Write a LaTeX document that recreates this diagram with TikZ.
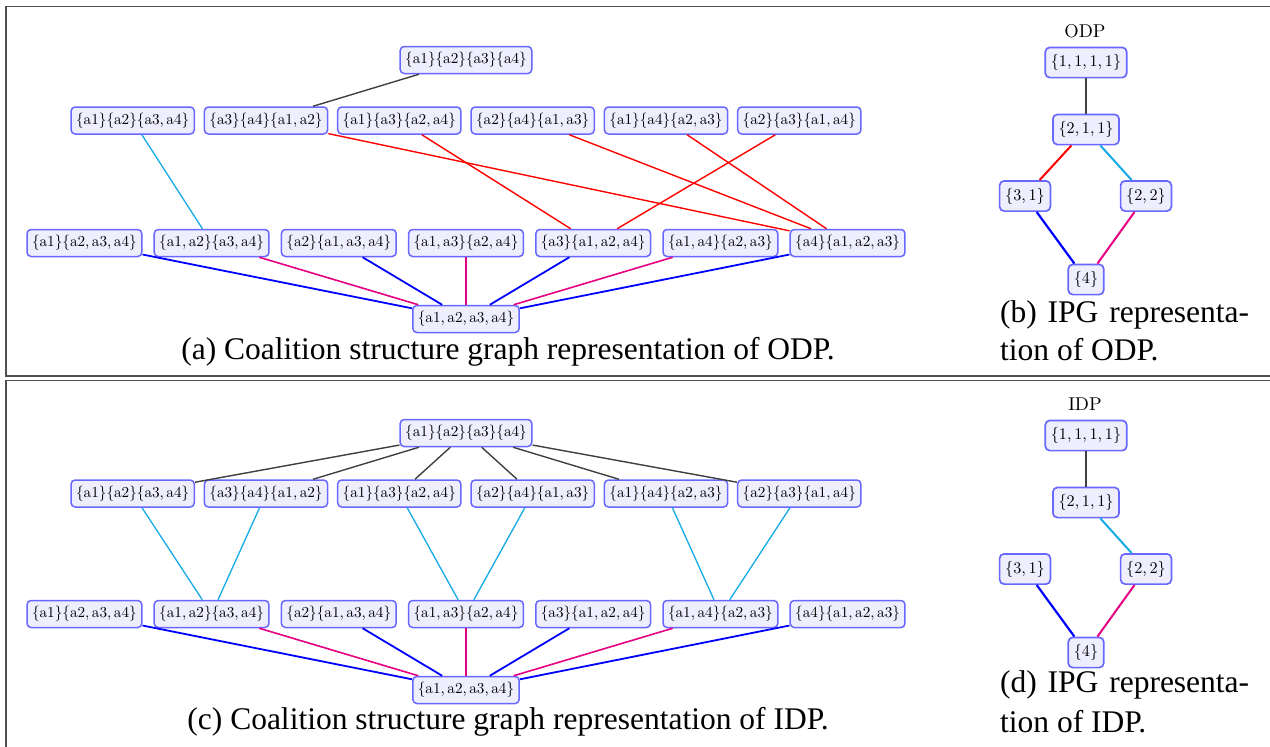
\documentclass[tikz,border=0pt]{standalone}
\usepackage{fontspec}
\newfontfamily\capfont{Liberation Serif}
\definecolor{edgegray}{RGB}{64,64,64}
\definecolor{ecyan}{RGB}{20,170,230}
\definecolor{ered}{RGB}{255,0,0}
\definecolor{eblue}{RGB}{0,0,255}
\definecolor{emag}{RGB}{230,0,130}
\definecolor{nodeborder}{RGB}{104,104,255}
\definecolor{nodefill}{RGB}{238,238,255}
\definecolor{framecol}{RGB}{80,80,80}
\newcommand{\cm}{,\kern1.67pt}
\newcommand{\csl}[1]{\scalebox{1.52}{\fontsize{10}{12}\selectfont #1}}
\newcommand{\ipl}[1]{\scalebox{1.62}{\fontsize{10}{12}\selectfont #1}}
\begin{document}
\begin{tikzpicture}[x=1pt,y=-1pt,
  cs/.style={draw=nodeborder, fill=nodefill, rounded corners=4pt, line width=1.5pt,
    inner xsep=5pt, inner ysep=5.9pt},
  ip/.style={draw=nodeborder, fill=nodefill, rounded corners=4.5pt, line width=1.7pt,
    inner xsep=5.6pt, inner ysep=7pt},
  lbl/.style={inner sep=0pt},
  captext/.style={inner sep=0pt, font=\capfont\fontsize{31.5}{35}\selectfont},
  eg/.style={draw=edgegray, line width=1.4pt},
  ec/.style={draw=ecyan, line width=1.3pt},
  er/.style={draw=ered, line width=1.4pt},
  eb/.style={draw=eblue, line width=1.8pt},
  em/.style={draw=emag, line width=1.6pt},
  ecr/.style={draw=ecyan, line width=2pt},
  err/.style={draw=ered, line width=2pt},
  ebr/.style={draw=eblue, line width=2.2pt},
  emr/.style={draw=emag, line width=2pt},
  egr/.style={draw=edgegray, line width=2pt},
  frame/.style={draw=framecol, line width=1.5pt}
]
\useasboundingbox (0,0) rectangle (1270,747);

% frames
\draw[frame] (1270,6.5) -- (6,6.5) -- (6,376) -- (1270,376);
\draw[frame] (1270,380.5) -- (6,380.5) -- (6,747);

% ================= panel (a) =================
\node[cs] (a_t) at (466,60) {\csl{\{a1\}\{a2\}\{a3\}\{a4\}}};
\node[cs] (a_r1) at (132.7,120.5) {\csl{\{a1\}\{a2\}\{a3\cm a4\}}};
\node[cs] (a_r2) at (266,120.5) {\csl{\{a3\}\{a4\}\{a1\cm a2\}}};
\node[cs] (a_r3) at (399.3,120.5) {\csl{\{a1\}\{a3\}\{a2\cm a4\}}};
\node[cs] (a_r4) at (532.7,120.5) {\csl{\{a2\}\{a4\}\{a1\cm a3\}}};
\node[cs] (a_r5) at (666,120.5) {\csl{\{a1\}\{a4\}\{a2\cm a3\}}};
\node[cs] (a_r6) at (799.3,120.5) {\csl{\{a2\}\{a3\}\{a1\cm a4\}}};
\node[cs] (a_s1) at (84.4,243) {\csl{\{a1\}\{a2\cm a3\cm a4\}}};
\node[cs] (a_s2) at (211.6,243) {\csl{\{a1\cm a2\}\{a3\cm a4\}}};
\node[cs] (a_s3) at (338.8,243) {\csl{\{a2\}\{a1\cm a3\cm a4\}}};
\node[cs] (a_s4) at (466,243) {\csl{\{a1\cm a3\}\{a2\cm a4\}}};
\node[cs] (a_s5) at (593.2,243) {\csl{\{a3\}\{a1\cm a2\cm a4\}}};
\node[cs] (a_s6) at (720.4,243) {\csl{\{a1\cm a4\}\{a2\cm a3\}}};
\node[cs] (a_s7) at (847.6,243) {\csl{\{a4\}\{a1\cm a2\cm a3\}}};
\node[cs] (a_b) at (466,319) {\csl{\{a1\cm a2\cm a3\cm a4\}}};

\draw[eg] (a_t) -- (a_r2);
\draw[ec] (a_r1) -- (a_s2);
\draw[er] (a_r2) -- (a_s7);
\draw[er] (a_r3) -- (a_s5);
\draw[er] (a_r4) -- (a_s7);
\draw[er] (a_r5) -- (a_s7);
\draw[er] (a_r6) -- (a_s5);
\draw[eb] (a_s1) -- (a_b);
\draw[em] (a_s2) -- (a_b);
\draw[eb] (a_s3) -- (a_b);
\draw[em] (a_s4) -- (a_b);
\draw[eb] (a_s5) -- (a_b);
\draw[em] (a_s6) -- (a_b);
\draw[eb] (a_s7) -- (a_b);

\node[captext] (a_cap) at (508,352) {(a) Coalition structure graph representation of ODP.};

% ================= panel (b) =================
\node[lbl] (b_lbl) at (1085,31) {\scalebox{1.85}{\fontsize{10}{12}\selectfont ODP}};
\node[ip] (b_n1) at (1086,62.5) {\ipl{\{1\cm 1\cm 1\cm 1\}}};
\node[ip] (b_n2) at (1086,129.5) {\ipl{\{2\cm 1\cm 1\}}};
\node[ip] (b_n3) at (1025,196) {\ipl{\{3\cm 1\}}};
\node[ip] (b_n4) at (1146,196) {\ipl{\{2\cm 2\}}};
\node[ip] (b_n5) at (1086,279.5) {\ipl{\{4\}}};
\draw[egr] (b_n1) -- (b_n2);
\draw[err] (b_n2) -- (b_n3);
\draw[ecr] (b_n2) -- (b_n4);
\draw[ebr] (b_n3) -- (b_n5);
\draw[emr] (b_n4) -- (b_n5);
\node[captext, anchor=west] (b_cap1) at (1000,315) {\makebox[249pt][s]{(b) IPG representa-}};
\node[captext, anchor=west] (b_cap2) at (1000,350) {tion of ODP.};

% ================= panel (c) =================
\node[cs] (c_t) at (466,433) {\csl{\{a1\}\{a2\}\{a3\}\{a4\}}};
\node[cs] (c_r1) at (132.7,493.5) {\csl{\{a1\}\{a2\}\{a3\cm a4\}}};
\node[cs] (c_r2) at (266,493.5) {\csl{\{a3\}\{a4\}\{a1\cm a2\}}};
\node[cs] (c_r3) at (399.3,493.5) {\csl{\{a1\}\{a3\}\{a2\cm a4\}}};
\node[cs] (c_r4) at (532.7,493.5) {\csl{\{a2\}\{a4\}\{a1\cm a3\}}};
\node[cs] (c_r5) at (666,493.5) {\csl{\{a1\}\{a4\}\{a2\cm a3\}}};
\node[cs] (c_r6) at (799.3,493.5) {\csl{\{a2\}\{a3\}\{a1\cm a4\}}};
\node[cs] (c_s1) at (84.4,614) {\csl{\{a1\}\{a2\cm a3\cm a4\}}};
\node[cs] (c_s2) at (211.6,614) {\csl{\{a1\cm a2\}\{a3\cm a4\}}};
\node[cs] (c_s3) at (338.8,614) {\csl{\{a2\}\{a1\cm a3\cm a4\}}};
\node[cs] (c_s4) at (466,614) {\csl{\{a1\cm a3\}\{a2\cm a4\}}};
\node[cs] (c_s5) at (593.2,614) {\csl{\{a3\}\{a1\cm a2\cm a4\}}};
\node[cs] (c_s6) at (720.4,614) {\csl{\{a1\cm a4\}\{a2\cm a3\}}};
\node[cs] (c_s7) at (847.6,614) {\csl{\{a4\}\{a1\cm a2\cm a3\}}};
\node[cs] (c_b) at (466,690) {\csl{\{a1\cm a2\cm a3\cm a4\}}};

\draw[eg] (c_t) -- (c_r1);
\draw[eg] (c_t) -- (c_r2);
\draw[eg] (c_t) -- (c_r3);
\draw[eg] (c_t) -- (c_r4);
\draw[eg] (c_t) -- (c_r5);
\draw[eg] (c_t) -- (c_r6);
\draw[ec] (c_r1) -- (c_s2);
\draw[ec] (c_r2) -- (c_s2);
\draw[ec] (c_r3) -- (c_s4);
\draw[ec] (c_r4) -- (c_s4);
\draw[ec] (c_r5) -- (c_s6);
\draw[ec] (c_r6) -- (c_s6);
\draw[eb] (c_s1) -- (c_b);
\draw[em] (c_s2) -- (c_b);
\draw[eb] (c_s3) -- (c_b);
\draw[em] (c_s4) -- (c_b);
\draw[eb] (c_s5) -- (c_b);
\draw[em] (c_s6) -- (c_b);
\draw[eb] (c_s7) -- (c_b);

\node[captext] (c_cap) at (508,722) {(c) Coalition structure graph representation of IDP.};

% ================= panel (d) =================
\node[lbl] (d_lbl) at (1085,404) {\scalebox{1.85}{\fontsize{10}{12}\selectfont IDP}};
\node[ip] (d_n1) at (1086,435.5) {\ipl{\{1\cm 1\cm 1\cm 1\}}};
\node[ip] (d_n2) at (1086,502.5) {\ipl{\{2\cm 1\cm 1\}}};
\node[ip] (d_n3) at (1025,569) {\ipl{\{3\cm 1\}}};
\node[ip] (d_n4) at (1146,569) {\ipl{\{2\cm 2\}}};
\node[ip] (d_n5) at (1086,652.5) {\ipl{\{4\}}};
\draw[egr] (d_n1) -- (d_n2);
\draw[ecr] (d_n2) -- (d_n4);
\draw[ebr] (d_n3) -- (d_n5);
\draw[emr] (d_n4) -- (d_n5);
\node[captext, anchor=west] (d_cap1) at (1000,685) {\makebox[249pt][s]{(d) IPG representa-}};
\node[captext, anchor=west] (d_cap2) at (1000,722) {tion of IDP.};
\end{tikzpicture}
\end{document}
